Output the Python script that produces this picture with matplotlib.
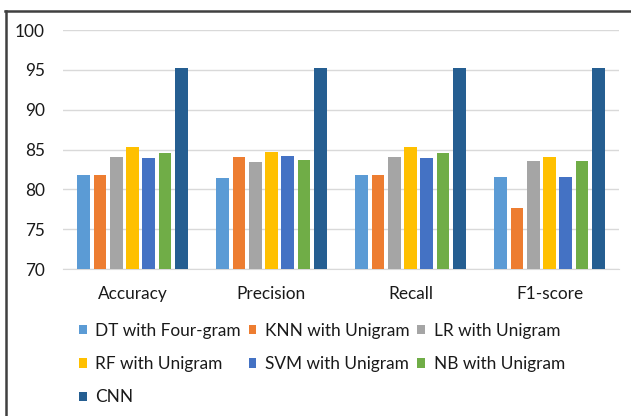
import numpy as np
import matplotlib.pyplot as plt
from matplotlib.lines import Line2D

plt.rcParams['font.family'] = ['Lato', 'DejaVu Sans']

# Data
metrics = ['Accuracy', 'Precision', 'Recall', 'F1-score']
models = ['DT with Four-gram', 'KNN with Unigram', 'LR with Unigram',
          'RF with Unigram', 'SVM with Unigram', 'NB with Unigram', 'CNN']
dt_four = [81.8, 81.4, 81.8, 81.5]
knn_uni = [81.8, 84.1, 81.8, 77.6]
lr_uni = [84.1, 83.4, 84.1, 83.6]
rf_uni = [85.3, 84.7, 85.3, 84.1]
svm_uni = [83.9, 84.2, 83.9, 81.5]
nb_uni = [84.5, 83.7, 84.5, 83.5]
cnn = [95.2, 95.2, 95.2, 95.2]
series = [dt_four, knn_uni, lr_uni, rf_uni, svm_uni, nb_uni, cnn]
colors = ['#5B9BD5', '#ED7D31', '#A5A5A5', '#FFC000', '#4472C4', '#70AD47', '#255E91']

W, H = 631, 416
fig = plt.figure(figsize=(W / 100, H / 100), dpi=100)
ax = fig.add_axes([63 / W, (H - 269) / H, 556 / W, 239 / H])

x = np.arange(len(metrics))
pitch = 0.117
bars = []
for i, (vals, c) in enumerate(zip(series, colors)):
    b = ax.bar(x + (i - 3) * pitch, np.array(vals) - 70, bottom=70,
               width=0.091, color=c, zorder=3, label=models[i])
    bars.append(b)

ax.set_xlim(-0.5, 3.5)
ax.set_ylim(70, 100)
ax.set_yticks(range(70, 101, 5))
ax.set_xticks(x)
ax.set_xticklabels(metrics)
ax.grid(axis='y', color='#D9D9D9', linewidth=1, zorder=0)
for s in ['top', 'right', 'left']:
    ax.spines[s].set_visible(False)
ax.spines['bottom'].set_color('#D9D9D9')
ax.tick_params(axis='both', length=0, labelsize=12.4, colors='#1a1a1a')
ax.tick_params(axis='y', pad=13)
ax.tick_params(axis='x', pad=12)

# Legend filled row by row like the original
order = [0, 3, 6, 1, 4, 2, 5]
leg = fig.legend([bars[k] for k in order], [models[k] for k in order],
                 ncol=3, loc='upper left', bbox_to_anchor=(79 / W, (H - 323) / H),
                 frameon=False, fontsize=12.4, handlelength=0.45, handleheight=0.45,
                 handletextpad=0.5, columnspacing=0.45, labelspacing=1.0,
                 borderaxespad=0, borderpad=0)
for t in leg.get_texts():
    t.set_color('#1a1a1a')

# Frame lines (top and left only visible)
fig.add_artist(Line2D([5 / W, 1], [(H - 10.5) / H] * 2, color='#404040', lw=1.8,
                      transform=fig.transFigure))
fig.add_artist(Line2D([6 / W] * 2, [0, (H - 10.5) / H], color='#404040', lw=1.8,
                      transform=fig.transFigure))

fig.savefig('out.png', dpi=100)
